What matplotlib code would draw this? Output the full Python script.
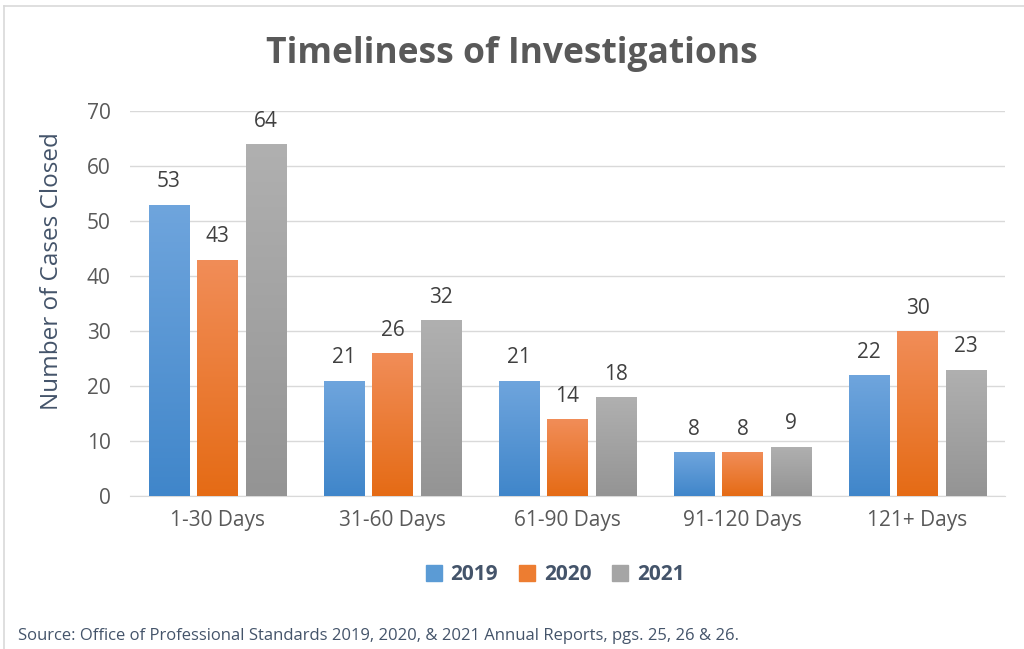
import matplotlib
matplotlib.use("Agg")
import matplotlib.pyplot as plt
import numpy as np
from matplotlib.colors import LinearSegmentedColormap
from matplotlib.lines import Line2D

categories = ["1-30 Days", "31-60 Days", "61-90 Days", "91-120 Days", "121+ Days"]
years = ["2019", "2020", "2021"]
values = {
    "2019": [53, 21, 21, 8, 22],
    "2020": [43, 26, 14, 8, 30],
    "2021": [64, 32, 18, 9, 23],
}
base_colors = {"2019": "#5B9BD5", "2020": "#ED7D31", "2021": "#A5A5A5"}
gradients = {
    "2019": ("#6FA5DD", "#4086CA"),
    "2020": ("#F18D58", "#E56B15"),
    "2021": ("#B0B0B0", "#949494"),
}

plt.rcParams['font.family'] = ['Open Sans', 'DejaVu Sans']

fig = plt.figure(figsize=(10.24, 6.49), dpi=100)
ax = fig.add_axes([130 / 1024, 1 - 496 / 649, 875 / 1024, 385 / 649])

x = np.arange(len(categories))
width = 0.229
offsets = [-0.277, 0, 0.277]

grad = np.linspace(0, 1, 256).reshape(-1, 1)
for yr, off in zip(years, offsets):
    bars = ax.bar(x + off, values[yr], width, color=base_colors[yr], zorder=2)
    cmap = LinearSegmentedColormap.from_list(yr, [gradients[yr][0], gradients[yr][1]])
    for b, v in zip(bars, values[yr]):
        im = ax.imshow(grad, cmap=cmap, aspect='auto', zorder=3,
                       extent=[b.get_x(), b.get_x() + b.get_width(), 0, v],
                       origin='upper')
        im.set_clip_path(b)
        ax.text(b.get_x() + b.get_width() / 2, v + 2.2, str(v), ha='center',
                va='bottom', fontsize=15, color='#404040', zorder=4)

ax.set_xlim(-0.5, len(categories) - 0.5)
ax.set_ylim(0, 70)
ax.set_yticks(range(0, 71, 10))
ax.set_xticks(x)
ax.set_xticklabels(categories)
ax.tick_params(axis='both', length=0, labelsize=15, labelcolor='#595959')
ax.tick_params(axis='x', pad=10)
ax.tick_params(axis='y', pad=14)
ax.grid(axis='y', color='#D9D9D9', linewidth=1, zorder=0)
ax.set_axisbelow(True)
for s in ['top', 'right', 'left']:
    ax.spines[s].set_visible(False)
ax.spines['bottom'].set_color('#D9D9D9')
ax.set_ylabel("Number of Cases Closed", fontsize=17.5, color='#44546A')
ax.yaxis.set_label_coords(-66 / 875, 0.584)

fig.text(0.5, 1 - 54 / 649, "Timeliness of Investigations", ha='center', va='center',
         fontsize=25.5, fontweight='bold', color='#595959')

handles = [Line2D([0], [0], marker='s', linestyle='none', markersize=11,
                  markerfacecolor=base_colors[yr], markeredgecolor=base_colors[yr])
           for yr in years]
fig.legend(handles, years, loc='center', bbox_to_anchor=(555 / 1024, 1 - 575 / 649),
           ncol=3, frameon=False, handlelength=0.8, handletextpad=0.4, columnspacing=1.0,
           prop={'weight': 'bold', 'size': 15}, labelcolor='#44546A')

fig.text(18 / 1024, 1 - 636 / 649,
         "Source: Office of Professional Standards 2019, 2020, & 2021 Annual Reports, pgs. 25, 26 & 26.",
         ha='left', va='center', fontsize=12, color='#44546A')

# chart border
fig.add_artist(Line2D([4 / 1024, 4 / 1024], [0, 1 - 6 / 649], color='#D9D9D9', lw=1.2))
fig.add_artist(Line2D([4 / 1024, 1], [1 - 6 / 649, 1 - 6 / 649], color='#D9D9D9', lw=1.2))

fig.savefig("out.png", dpi=100)
